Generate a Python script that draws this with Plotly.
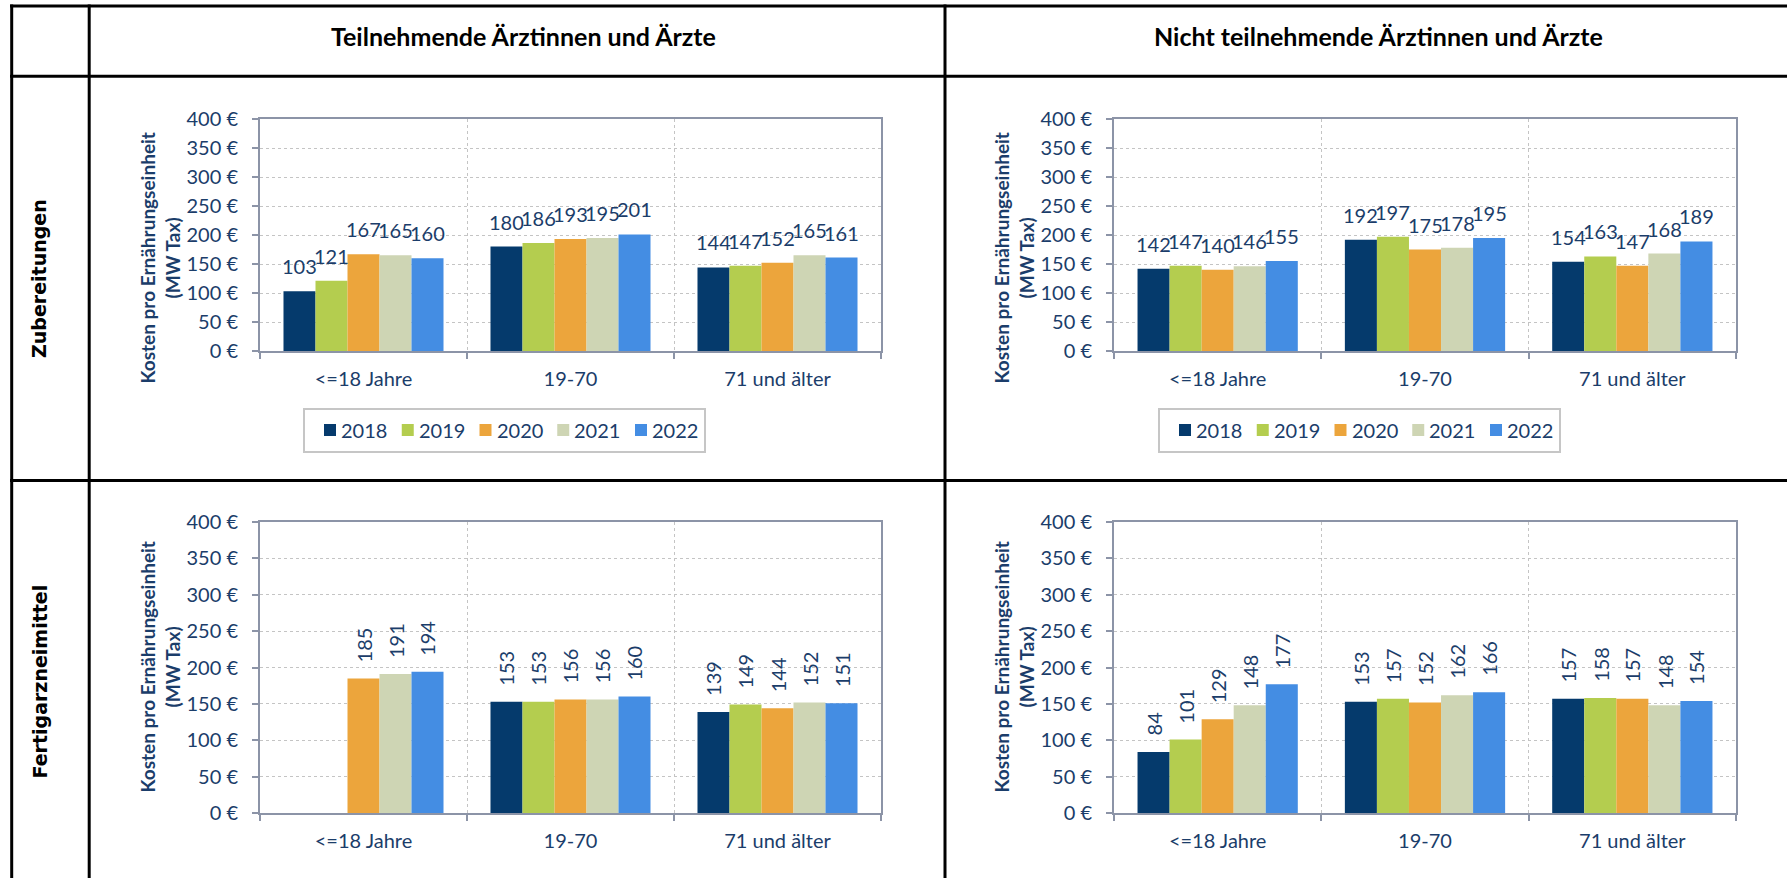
import plotly.graph_objects as go

# ---- data -----------------------------------------------------------------
categories = ["<=18 Jahre", "19-70", "71 und älter"]
years = ["2018", "2019", "2020", "2021", "2022"]

# Kosten pro Ernährungseinheit (MW Tax), one list per year: [<=18, 19-70, 71+]
zub_teilnehmend = [
    [103, 180, 144],
    [121, 186, 147],
    [167, 193, 152],
    [165, 195, 165],
    [160, 201, 161],
]
zub_nicht_teilnehmend = [
    [142, 192, 154],
    [147, 197, 163],
    [140, 175, 147],
    [146, 178, 168],
    [155, 195, 189],
]
fert_teilnehmend = [
    [None, 153, 139],
    [None, 153, 149],
    [185, 156, 144],
    [191, 156, 152],
    [194, 160, 151],
]
fert_nicht_teilnehmend = [
    [84, 153, 157],
    [101, 157, 158],
    [129, 152, 157],
    [148, 162, 148],
    [177, 166, 154],
]

column_titles = ["Teilnehmende Ärztinnen und Ärzte", "Nicht teilnehmende Ärztinnen und Ärzte"]
row_titles = ["Zubereitungen", "Fertigarzneimittel"]
y_title = ["Kosten pro Ernährungseinheit", "(MW Tax)"]

# ---- styling --------------------------------------------------------------
W, H = 1787, 878
year_colors = ["#053A6C", "#B4CD4F", "#ECA53C", "#CED5B4", "#448DE3"]
NAVY = "#1B3D6A"
FRAME = "#8C94A7"
GRID = "#C4C4C4"
LABEL_FONT = "Lato, sans-serif"
ROW_FONT = "DejaVu Sans, sans-serif"
BARGAP = 0.227
TXT = 20


def fx(px):
    return px / W


def fy(px):
    return 1 - px / H


# panel layout in pixels: plot area left/right, top/bottom, y-title centre,
# and (for the upper row) the left edge of the year key box
panels = [
    dict(data=zub_teilnehmend, x=(260, 881), y=(119, 351), ty=258, key=304, rotate=False),
    dict(data=zub_nicht_teilnehmend, x=(1114, 1736), y=(119, 351), ty=258, key=1159, rotate=False),
    dict(data=fert_teilnehmend, x=(260, 881), y=(522, 813), ty=667, key=None, rotate=True),
    dict(data=fert_nicht_teilnehmend, x=(1114, 1736), y=(522, 813), ty=667, key=None, rotate=True),
]

fig = go.Figure()
annotations = []
shapes = []
layout_axes = {}

n_years = len(years)
bar_w = (1 - BARGAP) / n_years

for k, p in enumerate(panels, start=1):
    xa, ya = f"x{k}", f"y{k}"
    for i, year in enumerate(years):
        vals = p["data"][i]
        fig.add_trace(go.Bar(
            x=categories, y=vals, name=year,
            marker=dict(color=year_colors[i], line=dict(width=0)),
            xaxis=xa, yaxis=ya, showlegend=False, hoverinfo="skip",
        ))
        # value labels above each bar
        for j, v in enumerate(vals):
            if v is None:
                continue
            annotations.append(dict(
                x=j - (1 - BARGAP) / 2 + bar_w * (i + 0.5), y=v,
                xref=xa, yref=ya, text=str(v), showarrow=False,
                xanchor="center", yanchor="bottom",
                yshift=14 if p["rotate"] else 11,
                textangle=-90 if p["rotate"] else 0,
                font=dict(family=LABEL_FONT, size=TXT, color=NAVY),
            ))

    layout_axes[f"xaxis{k}"] = dict(
        domain=[fx(p["x"][0]), fx(p["x"][1])], anchor=ya,
        type="category", range=[-0.5, 2.5], tickson="boundaries",
        ticks="outside", ticklen=6, tickwidth=1.5, tickcolor=FRAME,
        showgrid=True, gridcolor=GRID, griddash="dot", gridwidth=1,
        showline=True, linecolor=FRAME, linewidth=2, mirror=True,
        tickfont=dict(family=LABEL_FONT, size=TXT, color=NAVY),
        ticklabelstandoff=9, fixedrange=True,
    )
    layout_axes[f"yaxis{k}"] = dict(
        domain=[fy(p["y"][1]), fy(p["y"][0])], anchor=xa,
        range=[0, 400], dtick=50, tick0=0, ticksuffix=" €",
        ticks="outside", ticklen=6, tickwidth=1.5, tickcolor=FRAME,
        showgrid=True, gridcolor=GRID, griddash="dot", gridwidth=1,
        showline=True, linecolor=FRAME, linewidth=2, mirror=True,
        zeroline=False,
        tickfont=dict(family=LABEL_FONT, size=TXT, color=NAVY),
        ticklabelstandoff=10, fixedrange=True,
    )

    # two-line y axis title
    for line_txt, off in zip(y_title, (-113.5, -88.5)):
        annotations.append(dict(
            x=fx(p["x"][0] + off), y=fy(p["ty"]), xref="paper", yref="paper",
            text=f"<b>{line_txt}</b>", showarrow=False, textangle=-90,
            xanchor="center", yanchor="middle",
            font=dict(family=LABEL_FONT, size=19, color=NAVY),
        ))

    # year key: framed box with a colour square and label per year
    if p["key"] is not None:
        left = p["key"]
        shapes.append(dict(type="rect", xref="paper", yref="paper",
                           x0=fx(left), x1=fx(left + 401), y0=fy(452), y1=fy(409),
                           line=dict(color="#C6C6C6", width=2), fillcolor="#FFFFFF",
                           layer="above"))
        for i, year in enumerate(years):
            sx = left + 20 + 77.75 * i
            shapes.append(dict(type="rect", xref="paper", yref="paper",
                               x0=fx(sx), x1=fx(sx + 12), y0=fy(436), y1=fy(424),
                               line=dict(width=0), fillcolor=year_colors[i],
                               layer="above"))
            annotations.append(dict(
                x=fx(sx + 15), y=fy(429.5), xref="paper", yref="paper",
                text=year, showarrow=False, xanchor="left", yanchor="middle",
                font=dict(family=LABEL_FONT, size=TXT, color=NAVY),
            ))

# column headers
for txt, cx in zip(column_titles, (523.4, 1378.5)):
    annotations.append(dict(
        x=fx(cx), y=fy(36), xref="paper", yref="paper", text=f"<b>{txt}</b>",
        showarrow=False, xanchor="center", yanchor="middle",
        font=dict(family=LABEL_FONT, size=25, color="#000000"),
    ))

# row headers
for txt, cy in zip(row_titles, (279, 681.5)):
    annotations.append(dict(
        x=fx(39), y=fy(cy), xref="paper", yref="paper", text=f"<b>{txt}</b>",
        showarrow=False, textangle=-90, xanchor="center", yanchor="middle",
        font=dict(family=ROW_FONT, size=19, color="#000000"),
    ))

# table rules
for yy in (6, 76.3, 480.5):
    shapes.append(dict(type="line", xref="paper", yref="paper",
                       x0=fx(10), x1=1, y0=fy(yy), y1=fy(yy),
                       line=dict(color="#000000", width=3)))
for xx in (11.7, 89.2, 945):
    shapes.append(dict(type="line", xref="paper", yref="paper",
                       x0=fx(xx), x1=fx(xx), y0=fy(4.5), y1=0,
                       line=dict(color="#000000", width=3)))

fig.update_layout(
    width=W, height=H, autosize=False,
    margin=dict(l=0, r=0, t=0, b=0, pad=0, autoexpand=False),
    paper_bgcolor="#FFFFFF", plot_bgcolor="#FFFFFF",
    barmode="group", bargap=BARGAP, bargroupgap=0,
    showlegend=False,
    annotations=annotations, shapes=shapes,
    **layout_axes,
)

fig.write_html("out.html", config={"displayModeBar": False})
